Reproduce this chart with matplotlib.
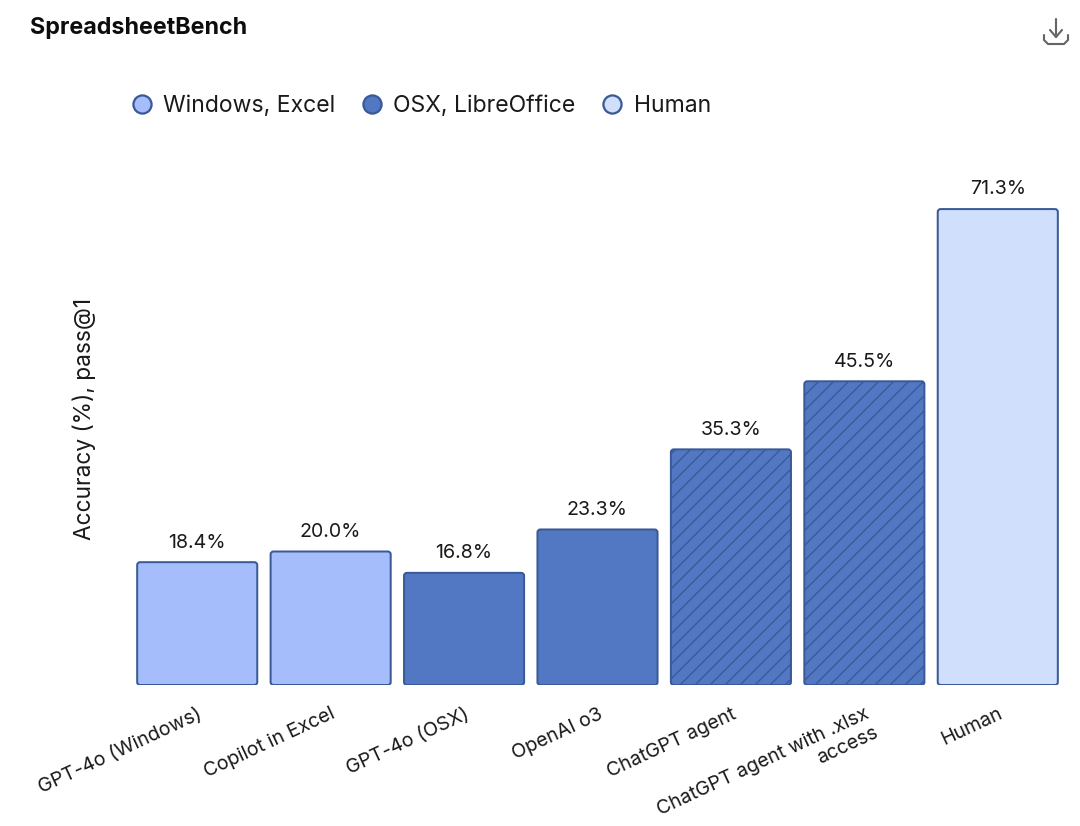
import matplotlib as mpl
mpl.use('Agg')
import matplotlib.pyplot as plt
from matplotlib.lines import Line2D
from matplotlib.patches import FancyBboxPatch

W, H = 1080, 826
DPI = 90

models = ['GPT-4o (Windows)', 'Copilot in Excel', 'GPT-4o (OSX)', 'OpenAI o3',
          'ChatGPT agent', 'ChatGPT agent with .xlsx\naccess', 'Human']
accuracy = [18.4, 20.0, 16.8, 23.3, 35.3, 45.5, 71.3]
groups = ['win', 'win', 'osx', 'osx', 'osx', 'osx', 'human']
hatched = [False, False, False, False, True, True, False]
group_names = {'win': 'Windows, Excel', 'osx': 'OSX, LibreOffice', 'human': 'Human'}
colors = {'win': '#a5bdfb', 'osx': '#5277c3', 'human': '#cfdffc'}
EDGE = '#3a5a97'
TEXT = '#1a1a1a'

plt.rcParams['font.family'] = ['Inter', 'DejaVu Sans']
plt.rcParams['hatch.linewidth'] = 1.1

fig = plt.figure(figsize=(W / DPI, H / DPI), dpi=DPI, facecolor='white')


def fx(px):
    return px / W


def fy(px):
    return 1 - px / H


# axes box picked so the bars land on the same pixels as the reference
ax = fig.add_axes([fx(130.5), fy(685), (1064.5 - 130.5) / W, (685 - 151) / H])
ax.set_xlim(-0.5, 6.5)
ax.set_ylim(0, 80)

bars = ax.bar(range(len(models)), accuracy, width=0.9, color='none', edgecolor='none')

# y units per x unit on screen, keeps the corners round
aspect = (80 / 534) / (7 / 934)
for bar, grp, hat in zip(bars, groups, hatched):
    ax.add_patch(FancyBboxPatch(
        (bar.get_x(), bar.get_y()), bar.get_width(), bar.get_height(),
        boxstyle='round,pad=0,rounding_size=0.022', mutation_aspect=aspect,
        facecolor=colors[grp], edgecolor=EDGE, linewidth=1.6,
        hatch='//' if hat else None))

ax.bar_label(bars, labels=['%.1f%%' % v for v in accuracy], padding=8.5,
             fontsize=15.7, color=TEXT)

ax.set_xticks(range(len(models)))
ax.set_xticklabels(models, rotation=25, ha='right', rotation_mode='anchor',
                   fontsize=15.6, color=TEXT)
ax.tick_params(axis='x', length=0, pad=16)
ax.set_yticks([])
for s in ax.spines.values():
    s.set_visible(False)

fig.text(fx(84), fy(419), 'Accuracy (%), pass@1', rotation=90, ha='center', va='center',
         fontsize=18.2, color=TEXT)
fig.text(fx(30), fy(28), 'SpreadsheetBench', ha='left', va='center',
         fontsize=18.6, fontweight='bold', color='#0d0d0d')

handles = [Line2D([], [], linestyle='none', marker='o', markersize=14.5,
                  markerfacecolor=colors[g], markeredgecolor=EDGE, markeredgewidth=1.8,
                  label=group_names[g]) for g in ['win', 'osx', 'human']]
fig.legend(handles=handles, loc='center left', bbox_to_anchor=(fx(119), fy(106)), ncol=3,
           frameon=False, fontsize=18.4, handletextpad=-0.08, columnspacing=0.6,
           labelcolor=TEXT, borderpad=0, borderaxespad=0)

# download icon
ICON = '#666666'
icon_lines = [([1056, 1056], [19, 37]), ([1050, 1056, 1062], [30, 37, 30]),
              ([1044, 1044, 1048, 1064, 1068, 1068], [35, 40, 44, 44, 40, 35])]
for xs, ys in icon_lines:
    fig.add_artist(Line2D([fx(x) for x in xs], [fy(y) for y in ys], color=ICON,
                          linewidth=1.7, solid_capstyle='round', solid_joinstyle='round'))

fig.savefig('out.png', dpi=DPI)
